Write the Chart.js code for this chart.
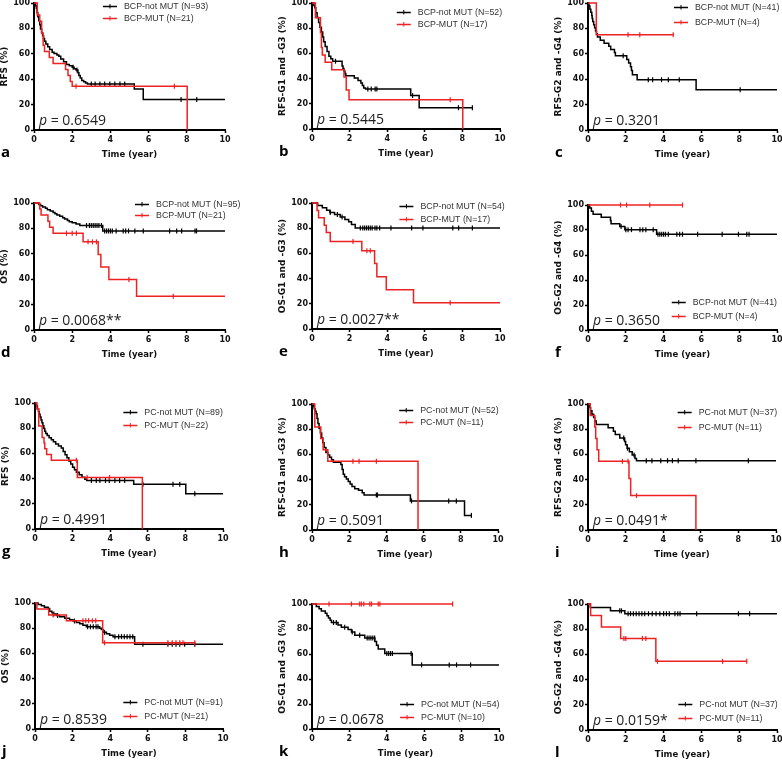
<!DOCTYPE html>
<html><head><meta charset="utf-8">
<script src="https://cdn.jsdelivr.net/npm/chart.js@4/dist/chart.umd.min.js"></script>
<style>
html,body{margin:0;padding:0;width:782px;height:765px;overflow:hidden;background:#fff;}
</style></head><body>
<script>
// ---------- DATA (time in years, survival in %) ----------
const xTicks = [0,2,4,6,8,10];
const yTicks = [0,20,40,60,80,100];

// a: RFS, BCP
const a_not = [[0,100],[0.08,97.8],[0.12,95.7],[0.16,92.5],[0.2,89.2],[0.25,86],[0.3,82.8],[0.34,79.6],[0.4,76.3],[0.45,74.2],[0.5,72],[0.55,69.9],[0.62,67.7],[0.72,65.6],[0.82,63.4],[0.95,61.3],[1.05,60.2],[1.2,59.1],[1.3,58],[1.4,55.9],[1.55,53.8],[1.7,51.6],[1.85,50.5],[2.0,49.4],[2.1,48.3],[2.2,47.2],[2.3,45],[2.35,43],[2.42,41],[2.5,39],[2.6,38],[2.7,37],[2.8,36.3],[5.25,32.3],[5.72,24],[10,24]];
const a_notCens = [2.05,2.25,3.0,3.2,3.45,3.7,3.97,4.23,4.5,4.75,7.7,8.52];
const a_mut = [[0,100],[0.17,90.5],[0.3,85.7],[0.4,76.2],[0.48,66.7],[0.55,61.9],[0.8,57.1],[1.0,52.4],[1.65,47.6],[1.78,42.9],[1.9,38.1],[2.0,34.5],[8.02,0]];
const a_mutCens = [2.2,7.35];

// b: RFS-G1 and -G3, BCP
const b_not = [[0,100],[0.1,98.1],[0.15,96.2],[0.2,92.3],[0.27,88.5],[0.35,84.6],[0.42,80.8],[0.5,76.9],[0.57,73.1],[0.62,69.2],[0.7,65.4],[0.8,61.5],[0.9,57.7],[1.0,55.8],[1.1,53.8],[1.6,50],[1.65,48],[1.7,46],[1.75,44],[1.8,42.3],[2.25,40.4],[2.45,38.5],[2.6,36.5],[2.68,34.6],[2.75,32.6],[2.85,31.8],[5.25,26.5],[5.7,16.9],[8.53,16.9]];
const b_notCens = [1.25,2.97,3.15,3.36,3.45,5.35,7.79,8.53];
const b_mut = [[0,100],[0.18,88.2],[0.45,76.5],[0.5,64.7],[0.55,58.8],[0.7,52.9],[1.05,47.1],[1.7,41.2],[1.82,30.9],[1.97,23.2],[8.02,0]];
const b_mutCens = [7.35];

// c: RFS-G2 and -G4, BCP
const c_not = [[0,100],[0.05,97.6],[0.1,95.1],[0.15,92.7],[0.2,90.2],[0.22,87.8],[0.25,85.4],[0.3,82.9],[0.35,80.5],[0.4,78],[0.45,75.6],[0.5,73.2],[0.65,70.7],[0.85,68.3],[1.1,65.9],[1.2,63.4],[1.4,61],[1.45,58.5],[2.05,55.6],[2.15,52.7],[2.25,49.8],[2.3,46.9],[2.35,43.5],[2.6,39.6],[5.72,31.7],[10,31.7]];
const c_notCens = [1.86,3.19,3.42,3.89,4.25,4.83,8.05];
const c_mut = [[0,100],[0.44,75],[4.51,75]];
const c_mutCens = [2.12,2.74,4.51];

// d: OS, BCP
const d_not = [[0,100],[0.25,98.9],[0.35,97.9],[0.45,96.8],[0.6,95.8],[0.7,94.7],[0.85,93.7],[1.0,92.6],[1.1,91.6],[1.2,90.5],[1.35,89.5],[1.5,88.4],[1.6,87.4],[1.75,86.3],[1.85,85.3],[2.0,84.5],[2.2,83.5],[2.4,82.3],[3.6,78],[10,78]];
const d_notCens = [2.75,2.9,3.0,3.1,3.2,3.3,3.4,3.53,3.7,3.8,3.9,4.0,4.1,4.3,4.67,4.8,4.95,5.28,5.72,7.1,7.47,7.73,8.43,8.51];
const d_mut = [[0,100],[0.3,95.2],[0.37,90.5],[0.73,85.7],[0.82,81],[1.0,76.2],[2.57,69.4],[3.36,59.5],[3.5,49.6],[3.92,39.7],[5.37,26.5],[10,26.5]];
const d_mutCens = [1.7,2.0,2.22,2.83,3.06,3.27,4.97,7.29];

// e: OS-G1 and -G3, BCP
const e_not = [[0,100],[0.3,98.1],[0.55,96.2],[0.78,94.3],[0.95,92.4],[1.2,90.8],[1.5,88.9],[1.75,87],[1.95,85.1],[2.1,83],[2.3,80.2],[10,80.2]];
const e_notCens = [0.97,1.35,1.6,2.57,2.7,2.8,2.9,3.0,3.1,3.2,3.35,3.45,3.6,4.2,5.3,5.9,7.49,7.8,8.53];
const e_mut = [[0,100],[0.27,94.1],[0.35,88.2],[0.65,82.4],[0.76,76.5],[0.97,69.4],[2.65,62.2],[3.33,51.9],[3.45,41.5],[3.95,31.1],[5.4,20.8],[10,20.8]];
const e_mutCens = [2.18,2.92,3.1,7.35];

// f: OS-G2 and -G4, BCP
const f_not = [[0,100],[0.09,97.6],[0.18,95.1],[0.27,92.7],[0.7,90.2],[1.19,87.7],[1.22,85.1],[1.68,82.8],[1.95,80.3],[3.63,76.6],[10,76.6]];
const f_notCens = [1.75,2.0,2.12,2.3,2.75,2.9,3.06,3.45,3.7,3.8,3.9,4.0,4.1,4.25,4.7,4.85,5.0,5.8,7.1,7.96,8.4,8.52];
const f_mut = [[0,100],[5.0,100]];
const f_mutCens = [1.72,2.04,3.27,5.0];

// g: RFS, PC
const g_not = [[0,100],[0.08,97.8],[0.13,95.5],[0.18,93.3],[0.22,91],[0.27,88.8],[0.32,86.5],[0.37,84.3],[0.42,82],[0.47,79.8],[0.52,77.5],[0.57,75.8],[0.65,74.2],[0.75,72.5],[0.87,70.8],[0.98,69.2],[1.1,67.5],[1.25,65.8],[1.4,64.2],[1.5,61.5],[1.6,59],[1.7,56.5],[1.8,54],[1.9,51.5],[2.0,49],[2.1,47],[2.2,45],[2.35,43],[2.5,41],[2.65,39.5],[2.75,38.5],[5.25,35.5],[8.02,27.9],[10,27.9]];
const g_notCens = [3.0,3.26,3.45,3.75,3.95,4.25,4.5,4.77,5.74,7.34,7.7,8.5];
const g_mut = [[0,100],[0.1,95.5],[0.2,81.8],[0.38,72.7],[0.48,68.2],[0.52,63.6],[0.62,59.1],[0.87,54.5],[2.25,40.9],[5.71,0]];
const g_mutCens = [2.2,2.77,3.97];

// h: RFS-G1 and -G3, PC
const h_not = [[0,100],[0.08,98.1],[0.12,96.2],[0.17,94.2],[0.22,92.3],[0.27,88.5],[0.32,84.6],[0.38,80.8],[0.45,76.9],[0.52,73.1],[0.58,69.2],[0.65,65.4],[0.75,61.5],[0.85,59.6],[0.95,57.7],[1.05,55.8],[1.15,53.8],[1.55,51.9],[1.62,48.1],[1.68,44.2],[1.75,42.3],[1.85,40.4],[1.95,38.5],[2.05,36.5],[2.15,34.6],[2.3,32.7],[2.5,31.6],[2.7,29.5],[2.8,27.8],[5.29,23.1],[8.2,11.6],[8.57,11.6]];
const h_notCens = [3.46,3.52,5.35,7.35,7.76,8.57];
const h_mut = [[0,100],[0.15,81.8],[0.47,72.7],[0.6,63.6],[0.85,54.5],[5.7,0]];
const h_mutCens = [2.2,2.53,3.46];

// i: RFS-G2 and -G4, PC
const i_not = [[0,100],[0.09,97.3],[0.14,94.6],[0.21,91.9],[0.3,89.2],[0.36,86.5],[0.44,83.8],[1.07,81.1],[1.35,78.4],[1.45,75.7],[1.69,73],[1.95,70.3],[2.0,67.6],[2.08,64.9],[2.2,62.2],[2.35,59.5],[2.5,56.8],[2.58,55],[10,55]];
const i_notCens = [1.9,2.1,2.45,3.1,3.4,3.87,4.23,4.49,4.8,5.74,8.53];
const i_mut = [[0,100],[0.12,90.9],[0.36,81.8],[0.41,72.7],[0.48,63.6],[0.57,54.5],[2.18,40.9],[2.27,27.3],[5.74,0]];
const i_mutCens = [1.83,2.13,2.58];

// j: OS, PC
const j_not = [[0,100],[0.16,98.9],[0.34,97.8],[0.5,96.7],[0.7,95.6],[0.78,93.4],[0.9,92.3],[0.96,91.2],[1.13,90.1],[1.31,89],[1.58,87.9],[1.84,86.8],[2.02,85.7],[2.2,84.6],[2.38,83.5],[2.55,82.4],[2.73,81.1],[3.44,80],[3.53,78.9],[3.62,76.7],[3.8,75.5],[3.97,74.4],[4.15,73.3],[5.3,67.3],[10,67.3]];
const j_notCens = [1.0,1.2,2.1,2.8,2.95,3.1,3.25,3.35,3.7,4.25,4.45,4.6,4.75,4.9,5.05,5.2,5.74,7.07,7.3,7.5,7.7,7.96,8.5];
const j_mut = [[0,100],[0.1,95.2],[0.73,90.5],[1.67,86],[3.6,68.4],[8.5,68.4]];
const j_mutCens = [0.96,2.55,2.7,2.85,3.05,3.23,3.7,7.07,7.3,7.5,7.7,7.87,8.5];

// k: OS-G1 and -G3, PC
const k_not = [[0,100],[0.23,98.1],[0.38,96.3],[0.5,94.4],[0.71,92.6],[0.8,90.7],[0.88,88.9],[0.97,87],[1.04,85.2],[1.39,83.3],[1.57,81.5],[1.93,79.6],[2.11,77.7],[2.29,75],[2.82,72.9],[3.36,70],[3.45,67],[3.54,64.1],[3.89,60.4],[5.36,51.3],[10,51.3]];
const k_notCens = [1.15,1.3,1.75,2.15,2.55,2.95,3.05,3.15,3.25,3.35,4.0,4.1,4.2,4.3,5.3,5.86,7.34,7.73,8.48];
const k_mut = [[0,100],[7.52,100]];
const k_mutCens = [0.91,2.11,2.55,2.64,2.77,3.09,3.18,3.54,3.63,7.52];

// l: OS-G2 and -G4, PC
const l_not = [[0,100],[0.12,97.3],[1.19,94.6],[1.95,92.3],[10,92.3]];
const l_notCens = [1.68,1.77,2.12,2.25,2.4,2.55,2.7,2.85,3.0,3.2,3.4,3.6,3.8,4.0,4.15,4.3,4.6,4.75,4.87,5.75,7.96,8.55];
const l_mut = [[0,100],[0.14,90.9],[0.71,81.8],[1.73,72.7],[3.59,54.5],[8.4,54.5]];
const l_mutCens = [1.9,2.0,2.88,3.06,3.68,7.12,8.4];

const yTitles = ['RFS (%)','RFS-G1 and -G3 (%)','RFS-G2 and -G4 (%)','OS (%)','OS-G1 and -G3 (%)','OS-G2 and -G4 (%)',
                 'RFS (%)','RFS-G1 and -G3 (%)','RFS-G2 and -G4 (%)','OS (%)','OS-G1 and -G3 (%)','OS-G2 and -G4 (%)'];
const legendLabels = [
  ['BCP-not MUT (N=93)','BCP-MUT (N=21)'],['BCP-not MUT (N=52)','BCP-MUT (N=17)'],['BCP-not MUT (N=41)','BCP-MUT (N=4)'],
  ['BCP-not MUT (N=95)','BCP-MUT (N=21)'],['BCP-not MUT (N=54)','BCP-MUT (N=17)'],['BCP-not MUT (N=41)','BCP-MUT (N=4)'],
  ['PC-not MUT (N=89)','PC-MUT (N=22)'],['PC-not MUT (N=52)','PC-MUT (N=11)'],['PC-not MUT (N=37)','PC-MUT (N=11)'],
  ['PC-not MUT (N=91)','PC-MUT (N=21)'],['PC-not MUT (N=54)','PC-MUT (N=10)'],['PC-not MUT (N=37)','PC-MUT (N=11)']];
const pValues = ['0.6549','0.5445','0.3201','0.0068**','0.0027**','0.3650','0.4991','0.5091','0.0491*','0.8539','0.0678','0.0159*'];
const letters = ['a','b','c','d','e','f','g','h','i','j','k','l'];

// ---------- LAYOUT ----------
const boxes = [ // [plotLeft, plotRight, plotTop, plotBottom] in page px
  [34,225,3,130],[312,500,3,129],[588,777,3,130],
  [34,225,203,330],[312,500,203,329],[588,777,205,330],
  [35,223,403,529],[312,498,404,530],[588,776,404,530],
  [35,223,603,729],[312,499,604,729],[588,777,604,730]];
const legendPos = [ // [x (year) of legend sample start, y row1, y row2]
  [3.61,97.6,88],[4.51,93,83],[4.55,96.6,85],
  [5.29,99.5,90.3],[4.65,97.9,87],[4.43,22.1,11.4],
  [4.7,93.1,82.5],[4.69,95.2,85.5],[4.77,93.4,82],
  [4.7,21.4,10.6],[4.71,20,9.9],[4.78,20.6,9.8]];

const curves = [
  [a_not,a_notCens,a_mut,a_mutCens],[b_not,b_notCens,b_mut,b_mutCens],[c_not,c_notCens,c_mut,c_mutCens],
  [d_not,d_notCens,d_mut,d_mutCens],[e_not,e_notCens,e_mut,e_mutCens],[f_not,f_notCens,f_mut,f_mutCens],
  [g_not,g_notCens,g_mut,g_mutCens],[h_not,h_notCens,h_mut,h_mutCens],[i_not,i_notCens,i_mut,i_mutCens],
  [j_not,j_notCens,j_mut,j_mutCens],[k_not,k_notCens,k_mut,k_mutCens],[l_not,l_notCens,l_mut,l_mutCens]];

const RED = '#ee2222', BLACK = '#000000';
const YW = 35, XH = 30, PT = 10, PR = 30, PB = 6;

function survAt(curve, t){
  let s = curve[0][1];
  for (const [x,y] of curve){ if (x <= t + 1e-9) s = y; else break; }
  return s;
}

const annot = {
  id:'annot',
  afterDraw(chart, args, o){
    const ctx = chart.ctx, xs = chart.scales.x, ys = chart.scales.y, ca = chart.chartArea;
    ctx.save();
    // legend
    const x0 = xs.getPixelForValue(o.leg[0]);
    [[o.leg[1],BLACK,o.labels[0]],[o.leg[2],RED,o.labels[1]]].forEach(([yv,c,txt])=>{
      const y = Math.round(ys.getPixelForValue(yv)) + 0.5;
      ctx.strokeStyle = c; ctx.lineWidth = 1.5;
      ctx.beginPath(); ctx.moveTo(x0,y); ctx.lineTo(x0+14,y); ctx.stroke();
      ctx.lineWidth = 1;
      ctx.beginPath(); ctx.moveTo(x0+7,y-2.5); ctx.lineTo(x0+7,y+2); ctx.stroke();
      ctx.fillStyle = '#333'; ctx.font = '8.8px "Liberation Sans", Arial, sans-serif';
      ctx.textBaseline = 'middle'; ctx.textAlign = 'left';
      ctx.fillText(txt, x0+21, y+0.5);
    });
    // p value
    ctx.fillStyle = '#222'; ctx.textBaseline = 'alphabetic'; ctx.textAlign = 'left';
    ctx.font = 'italic 14px "Open Sans", sans-serif';
    ctx.fillText('p', ca.left+5, ca.bottom-5);
    const pw = ctx.measureText('p').width;
    ctx.font = '14px "Open Sans", sans-serif';
    ctx.fillText(' = ' + o.p, ca.left+5+pw, ca.bottom-5);
    // panel letter
    ctx.fillStyle = '#000';
    ctx.font = 'bold 15px "Open Sans", sans-serif';
    ctx.fillText(o.letter, ca.left-33, ca.bottom+27);
    ctx.restore();
  }
};

const tickFont = {family:'"DejaVu Sans", sans-serif', weight:'bold', size:8};

boxes.forEach((bx, idx)=>{
  const [L,R,T,B] = bx;
  const [notC, notCens, mutC, mutCens] = curves[idx];
  const w = YW + (R-L) + PR, h = PT + (B-T) + XH + PB;
  const cv = document.createElement('canvas');
  cv.width = w; cv.height = h;
  cv.style.cssText = `position:absolute;left:${L-YW}px;top:${T-PT}px;width:${w}px;height:${h}px`;
  document.body.appendChild(cv);
  new Chart(cv, {
    type:'line',
    data:{datasets:[
      {data: mutCens.map(t=>({x:t,y:survAt(mutC,t)})), showLine:false, pointStyle:'line', rotation:90, pointRadius:2.5, pointHoverRadius:2.5, borderColor:RED, backgroundColor:RED, borderWidth:1.2, clip:6},
      {data: mutC.map(([x,y])=>({x,y})), borderColor:RED, borderWidth:1.5, stepped:true, pointRadius:0, fill:false, clip:6},
      {data: notCens.map(t=>({x:t,y:survAt(notC,t)})), showLine:false, pointStyle:'line', rotation:90, pointRadius:2.5, pointHoverRadius:2.5, borderColor:BLACK, backgroundColor:BLACK, borderWidth:1.2, clip:6},
      {data: notC.map(([x,y])=>({x,y})), borderColor:BLACK, borderWidth:1.5, stepped:true, pointRadius:0, fill:false, clip:6}
    ]},
    options:{
      responsive:false, animation:false, devicePixelRatio:1, events:[],
      layout:{padding:{top:PT,right:PR,left:0,bottom:PB}},
      plugins:{legend:{display:false}, tooltip:{enabled:false},
        annot:{leg:legendPos[idx], labels:legendLabels[idx], p:pValues[idx], letter:letters[idx]}},
      scales:{
        x:{type:'linear', min:xTicks[0], max:xTicks[xTicks.length-1],
           afterBuildTicks(s){ s.ticks = xTicks.map(v=>({value:v})); },
           ticks:{font:tickFont, color:'#111', padding:2, maxRotation:0, autoSkip:false},
           grid:{drawOnChartArea:false, tickLength:3, color:'#000', tickWidth:1.5},
           border:{color:'#000', width:2},
           title:{display:true, text:'Time (year)', color:'#111', padding:0,
                  font:{family:'"DejaVu Sans", sans-serif', weight:'bold', size:8.5}},
           afterFit(s){ s.height = XH; }},
        y:{type:'linear', min:yTicks[0], max:yTicks[yTicks.length-1],
           afterBuildTicks(s){ s.ticks = yTicks.map(v=>({value:v})); },
           ticks:{font:tickFont, color:'#111', padding:1, autoSkip:false},
           grid:{drawOnChartArea:false, tickLength:3, color:'#000', tickWidth:1.5},
           border:{color:'#000', width:2},
           title:{display:true, text:yTitles[idx], color:'#111', padding:0,
                  font:{family:'"DejaVu Sans", sans-serif', weight:'bold', size:9}},
           afterFit(s){ s.width = YW; }}
      }
    },
    plugins:[annot]
  });
});
</script>
</body></html>
